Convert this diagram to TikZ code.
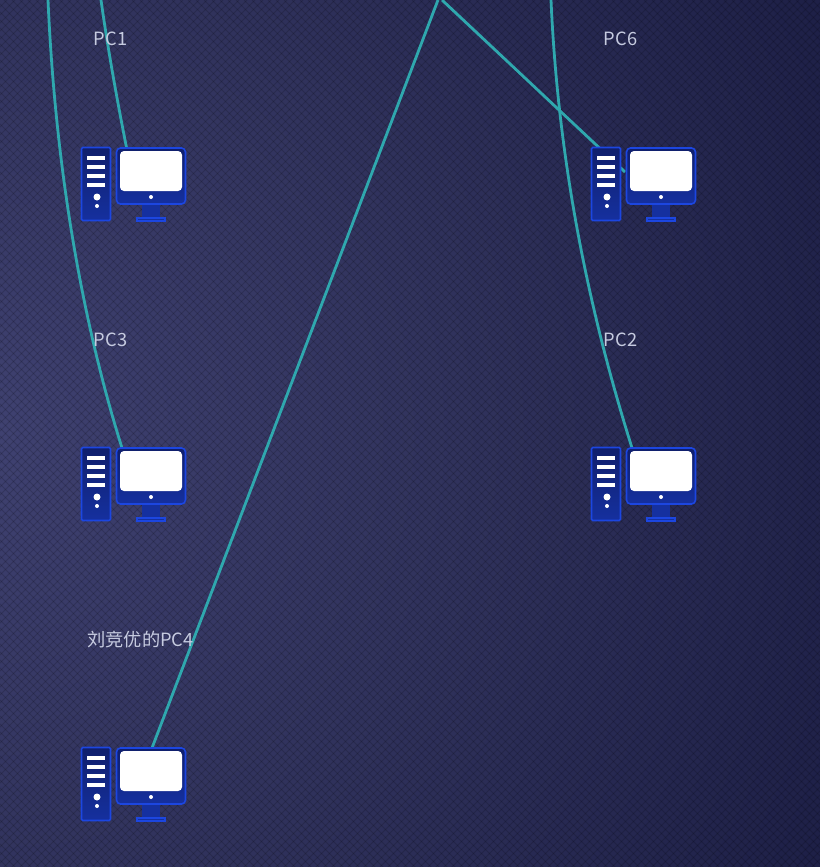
\documentclass[tikz,border=0pt]{standalone}
\usepackage{fontspec}
\setmainfont{Noto Sans CJK SC}
\usepackage{xcolor}
\definecolor{linkteal}{HTML}{2FA8AE}
\definecolor{labelgray}{HTML}{C6CBE0}
\definecolor{iconblue}{HTML}{1C46E0}
\definecolor{icondark}{HTML}{101F6C}
\definecolor{iconmid}{HTML}{15309F}
\definecolor{bglight}{HTML}{3F4170}
\definecolor{bgmid}{HTML}{30325C}
\definecolor{bgdark}{HTML}{1E2047}
\pgfdeclareradialshading{bgshade}{\pgfpointorigin}{color(0bp)=(bglight); color(14bp)=(bgmid); color(28bp)=(bgdark); color(100bp)=(bgdark)}
\tikzset{
  link/.style={draw=linkteal, line width=2.1pt},
  pclabel/.style={text=labelgray, font=\fontsize{13.7pt}{16pt}\selectfont, inner sep=0pt},
  hatch/.style={black, line width=.6pt, opacity=.15},
  iconshape/.style={draw=iconblue, line width=1.2pt, rounded corners=1pt, top color=icondark, bottom color=iconmid},
  pics/pcicon/.style={code={
    %% tower
    \path[iconshape] (0.5,0.5) rectangle (29.5,73.5);
    \foreach \b in {9,18,27,36} \fill[white] (6,\b) rectangle (24,\b+4);
    \fill[white] (16,50) circle (3.5);
    \fill[white] (16,59) circle (2);
    %% monitor
    \fill[iconmid] (61,50) rectangle (79,72);
    \filldraw[draw=iconblue, fill=iconmid, line width=1.1pt] (56,71) rectangle (84,74);
    \path[iconshape, rounded corners=3pt] (35.5,1) rectangle (104.5,57);
    \fill[white, rounded corners=3pt] (39,4) rectangle (101,44);
    \fill[white] (70,50) circle (2);
  }}
}
\begin{document}
\begin{tikzpicture}[x=.75pt, y=-.75pt]
\useasboundingbox (0,0) rectangle (820,867);
%% background
\begin{scope}
\clip (0,0) rectangle (820,867);
\shade[shading=bgshade] (-820,-387) rectangle (820,1253);
\foreach \k in {-868,-860,...,820} {
  \draw[hatch] (\k,0) -- (\k+867,867);
  \draw[hatch] (\k+867,0) -- (\k,867);
}
\end{scope}
%% free ends, top edge
\coordinate (top1) at (101,0);
\coordinate (top3) at (48,0);
\coordinate (top4) at (438,0);
\coordinate (top6) at (442,0);
\coordinate (top2) at (551,0);
%% machines
\coordinate (pc1) at (81,147);
\coordinate (pc6) at (591,147);
\coordinate (pc3) at (81,447);
\coordinate (pc2) at (591,447);
\coordinate (pc4) at (81,747);
%% line ends
\coordinate (end1) at (127,150);
\coordinate (end6) at (625,172);
\coordinate (end3) at (122,448);
\coordinate (end2) at (632,448);
\coordinate (end4) at (152,748);
%% links
\draw[link] (top1) .. controls (108,50) and (118,105) .. (end1);
\draw[link] (top3) .. controls (56,180) and (85,330) .. (end3);
\draw[link] (top4) -- (end4);
\draw[link] (top6) -- (end6);
\draw[link] (top2) .. controls (559,180) and (595,330) .. (end2);
%% icons
\pic at (pc1) {pcicon};
\pic at (pc6) {pcicon};
\pic at (pc3) {pcicon};
\pic at (pc2) {pcicon};
\pic at (pc4) {pcicon};
%% labels
\node[pclabel] (lab1) at (110.5,38.5) {PC1};
\node[pclabel] (lab6) at (620.5,38.5) {PC6};
\node[pclabel] (lab3) at (110.5,339.5) {PC3};
\node[pclabel] (lab2) at (620.5,339.5) {PC2};
\node[pclabel] (lab4) at (140.5,639.5) {刘竞优的PC4};
\end{tikzpicture}
\end{document}
